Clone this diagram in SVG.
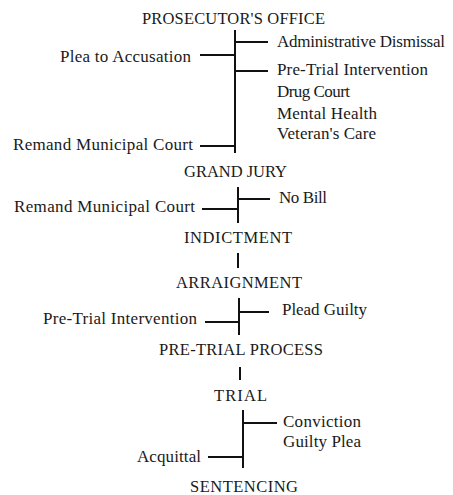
<svg xmlns="http://www.w3.org/2000/svg" width="453" height="495" viewBox="0 0 453 495">
<style>
text{font-family:"Liberation Serif","Times New Roman",serif;font-size:17px;fill:#1a1a1a}
.h{font-size:16.5px}
.c line{stroke:#111;stroke-width:2;stroke-linecap:butt}
</style>
<rect width="453" height="495" fill="#fff"/>
<g class="c" id="connectors">
<line x1="235" y1="30" x2="235" y2="153"/>
<line x1="235" y1="42" x2="268" y2="42"/>
<line x1="235" y1="71" x2="268" y2="71"/>
<line x1="200" y1="55" x2="235" y2="55"/>
<line x1="200" y1="146" x2="235" y2="146"/>
<line x1="238" y1="187" x2="238" y2="223"/>
<line x1="238" y1="199" x2="270" y2="199"/>
<line x1="202" y1="209" x2="238" y2="209"/>
<line x1="238" y1="253" x2="238" y2="268"/>
<line x1="239" y1="298" x2="239" y2="335"/>
<line x1="239" y1="312" x2="269" y2="312"/>
<line x1="205" y1="322" x2="239" y2="322"/>
<line x1="240" y1="367" x2="240" y2="380"/>
<line x1="243" y1="410" x2="243" y2="468"/>
<line x1="243" y1="423" x2="277" y2="423"/>
<line x1="208" y1="457" x2="243" y2="457"/>
</g>
<g id="prosecutors-office"><text class="h" x="142" y="24" textLength="183">PROSECUTOR'S OFFICE</text></g>
<g id="admin-dismissal"><text x="277" y="47" textLength="168">Administrative Dismissal</text></g>
<g id="plea-to-accusation"><text x="60" y="62" textLength="131">Plea to Accusation</text></g>
<g id="diversion">
<text x="277" y="75" textLength="151">Pre-Trial Intervention</text>
<text x="277" y="97" textLength="73">Drug Court</text>
<text x="277" y="119" textLength="100">Mental Health</text>
<text x="277" y="139" textLength="99">Veteran's Care</text>
</g>
<g id="remand-1"><text x="13" y="150" textLength="180">Remand Municipal Court</text></g>
<g id="grand-jury"><text class="h" x="184" y="177" textLength="103">GRAND JURY</text></g>
<g id="no-bill"><text x="279" y="203" textLength="48">No Bill</text></g>
<g id="remand-2"><text x="14" y="212" textLength="181">Remand Municipal Court</text></g>
<g id="indictment"><text class="h" x="184" y="243" textLength="108">INDICTMENT</text></g>
<g id="arraignment"><text class="h" x="176" y="288" textLength="126">ARRAIGNMENT</text></g>
<g id="plead-guilty"><text x="282" y="315" textLength="85">Plead Guilty</text></g>
<g id="pti-2"><text x="43" y="324" textLength="154">Pre-Trial Intervention</text></g>
<g id="pre-trial-process"><text class="h" x="159" y="355" textLength="164">PRE-TRIAL PROCESS</text></g>
<g id="trial"><text class="h" x="214" y="401" textLength="53">TRIAL</text></g>
<g id="conviction">
<text x="283" y="427" textLength="78">Conviction</text>
<text x="283" y="447" textLength="78">Guilty Plea</text>
</g>
<g id="acquittal"><text x="137" y="462" textLength="64">Acquittal</text></g>
<g id="sentencing"><text class="h" x="190" y="492" textLength="108">SENTENCING</text></g>
</svg>
